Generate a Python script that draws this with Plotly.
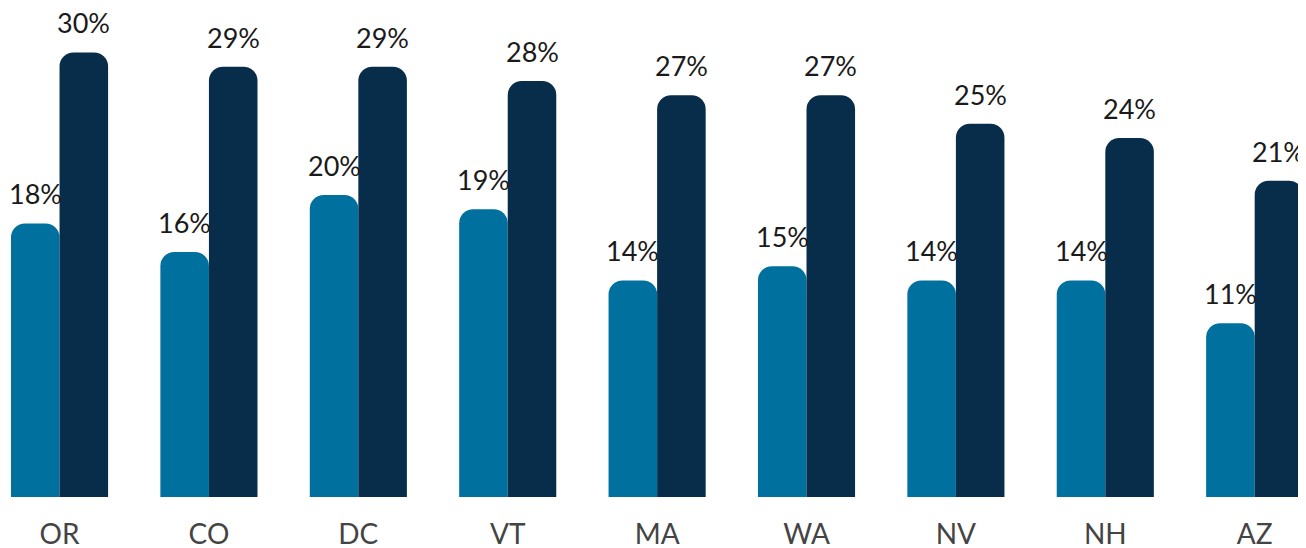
"""Two-series rounded bar chart by state."""

import plotly.graph_objects as go

states = ['OR', 'CO', 'DC', 'VT', 'MA', 'WA', 'NV', 'NH', 'AZ']
series_a = [18, 16, 20, 19, 14, 15, 14, 14, 11]
series_b = [30, 29, 29, 28, 27, 27, 25, 24, 21]

LIGHT = '#00719E'
DARK = '#072D4A'
FONT = 'Lato'
CAP = 1.2          # extra height of the rounded cap, in data units
BAR_PX = 24.3      # half the width of a group, pixels

fig = go.Figure()
for vals, color in ((series_a, LIGHT), (series_b, DARK)):
    fig.add_trace(go.Bar(
        x=states,
        y=[v + CAP for v in vals],
        marker=dict(color=color, cornerradius=14, line=dict(width=0)),
        hoverinfo='skip',
    ))

# value labels above each bar
annotations = []
for vals, shift in ((series_a, -BAR_PX), (series_b, BAR_PX)):
    for s, v in zip(states, vals):
        annotations.append(dict(
            x=s, y=v + CAP, xref='x', yref='y', text=f'{v}%',
            showarrow=False, xanchor='center', yanchor='bottom',
            xshift=shift, yshift=12, borderpad=0,
            font=dict(family=FONT, size=27, color='#1a1a1a'),
        ))

fig.update_layout(
    width=1306, height=548,
    margin=dict(l=0, r=0, t=0, b=59),
    paper_bgcolor='white', plot_bgcolor='white',
    barmode='group', bargap=0.35, bargroupgap=0,
    showlegend=False,
    annotations=annotations,
    xaxis=dict(
        range=[-0.345, 8.397], showgrid=False, zeroline=False,
        showline=False, ticks='', ticklabelstandoff=18,
        tickfont=dict(family=FONT, size=28, color='#444444'),
    ),
    yaxis=dict(
        range=[0, 33.12 + CAP], showgrid=False, zeroline=False,
        showticklabels=False, showline=False,
    ),
)

fig.write_html("out.html")
